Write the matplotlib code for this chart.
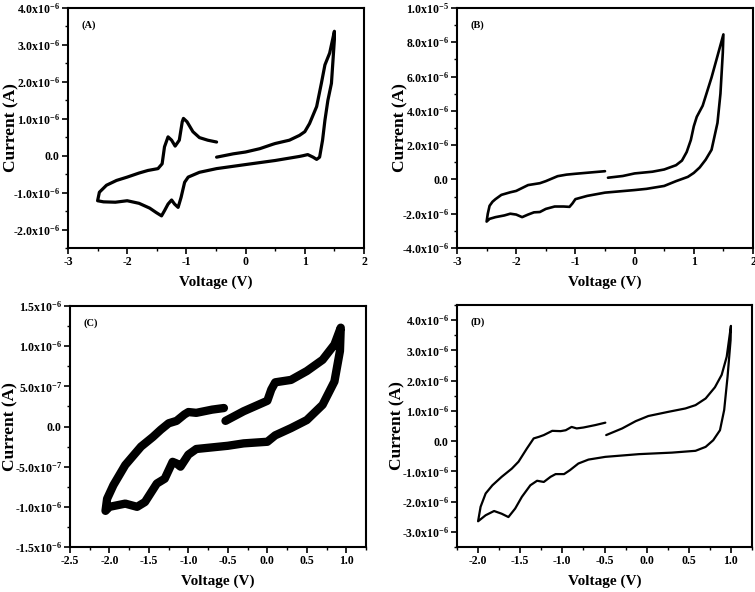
import numpy as np
import matplotlib
matplotlib.use("Agg")
import matplotlib.pyplot as plt
from matplotlib.ticker import FuncFormatter, MultipleLocator

plt.rcParams['font.family'] = ['Liberation Serif', 'DejaVu Serif']
plt.rcParams['font.weight'] = 'bold'
plt.rcParams['mathtext.fontset'] = 'custom'
plt.rcParams['mathtext.rm'] = 'Liberation Serif:bold'
plt.rcParams['mathtext.it'] = 'Liberation Serif:bold'
plt.rcParams['mathtext.bf'] = 'Liberation Serif:bold'

UA = 1e-6  # values below are in microamperes

# ---------------- Panel A ----------------
A_v = [-0.49, -0.21, 0.0, 0.24, 0.46, 0.5, 0.74, 0.91, 1.0, 1.08, 1.2, 1.28, 1.34, 1.42, 1.5,
       1.5, 1.45, 1.39, 1.34, 1.3, 1.25, 1.2, 1.14, 1.05, 0.97, 0.91, 0.5, 0.0, -0.49, -0.78,
       -0.97, -1.03, -1.09, -1.14, -1.2, -1.25, -1.31, -1.37, -1.42, -1.51, -1.62, -1.8, -2.0,
       -2.2, -2.4, -2.5,
       -2.47, -2.35, -2.18, -2.0, -1.8, -1.65, -1.48, -1.41, -1.37, -1.31, -1.25, -1.19, -1.12,
       -1.07, -1.05, -0.99, -0.89, -0.78, -0.64, -0.49]
A_i = [-0.04, 0.05, 0.1, 0.19, 0.31, 0.33, 0.42, 0.55, 0.65, 0.87, 1.33, 1.96, 2.46, 2.78, 3.37,
       3.15, 1.96, 1.5, 0.96, 0.42, -0.04, -0.1, -0.04, 0.03, 0.0, -0.02, -0.13, -0.24, -0.35, -0.45,
       -0.58, -0.72, -1.13, -1.4, -1.31, -1.2, -1.31, -1.49, -1.63, -1.54, -1.42, -1.29, -1.22,
       -1.26, -1.25, -1.22,
       -0.99, -0.8, -0.67, -0.58, -0.47, -0.4, -0.35, -0.22, 0.24, 0.51, 0.42, 0.26, 0.42,
       0.92, 1.01, 0.92, 0.65, 0.49, 0.42, 0.37]

# ---------------- Panel B ----------------
B_v = [-0.45, -0.2, 0.0, 0.3, 0.5, 0.7, 0.8, 0.88, 0.95, 1.0, 1.05, 1.15, 1.3, 1.4, 1.5,
       1.49, 1.47, 1.45, 1.4, 1.3, 1.2, 1.1, 1.0, 0.9, 0.7, 0.5, 0.2, 0.0, -0.5, -0.8, -1.0,
       -1.05, -1.1, -1.2, -1.35, -1.5, -1.6, -1.7, -1.8, -1.9, -2.0, -2.1, -2.2, -2.35, -2.45, -2.5,
       -2.48, -2.45, -2.4, -2.35, -2.25, -2.1, -2.0, -1.9, -1.8, -1.6, -1.5, -1.3, -1.15, -1.0,
       -0.7, -0.5]
B_i = [0.1, 0.2, 0.35, 0.45, 0.58, 0.83, 1.1, 1.6, 2.3, 3.1, 3.65, 4.3, 5.95, 7.2, 8.46,
       7.4, 6.2, 5.0, 3.3, 1.73, 1.15, 0.7, 0.38, 0.15, -0.1, -0.38, -0.55, -0.62, -0.77, -0.96, -1.15,
       -1.4, -1.6, -1.58, -1.58, -1.72, -1.9, -1.92, -2.05, -2.2, -2.05, -2.0, -2.1, -2.2, -2.3, -2.46,
       -2.0, -1.54, -1.3, -1.15, -0.9, -0.75, -0.67, -0.5, -0.33, -0.22, -0.1, 0.19, 0.28, 0.33,
       0.42, 0.48]

# ---------------- Panel C ----------------
C_v = [-0.53, -0.3, 0.0, 0.05, 0.1, 0.3, 0.5, 0.7, 0.85, 0.93,
       0.92, 0.85, 0.7, 0.5, 0.3, 0.1, 0.0, -0.3, -0.5, -0.9, -1.0, -1.1, -1.15, -1.2, -1.3,
       -1.4, -1.55, -1.65, -1.8, -2.0, -2.05,
       -2.03, -1.95, -1.8, -1.6, -1.45, -1.35, -1.25, -1.15, -1.05, -1.0, -0.9, -0.7, -0.55]
C_i = [0.07, 0.19, 0.32, 0.46, 0.55, 0.58, 0.69, 0.83, 1.02, 1.23,
       0.94, 0.56, 0.27, 0.08, -0.02, -0.11, -0.19, -0.21, -0.24, -0.28, -0.35, -0.5, -0.46, -0.44, -0.65,
       -0.71, -0.94, -1.0, -0.96, -1.0, -1.05,
       -0.9, -0.73, -0.48, -0.25, -0.13, -0.04, 0.04, 0.07, 0.15, 0.18, 0.17, 0.21, 0.23]

# ---------------- Panel D ----------------
D_v = [-0.48, -0.29, -0.13, 0.02, 0.26, 0.46, 0.58, 0.70, 0.81, 0.89, 0.95, 1.0,
       0.996, 0.96, 0.92, 0.87, 0.79, 0.70, 0.58, 0.30, -0.09, -0.49, -0.69, -0.81, -0.91, -0.98,
       -1.08, -1.14, -1.22, -1.30, -1.38, -1.48, -1.56, -1.64, -1.72, -1.81, -1.91, -2.0,
       -1.97, -1.91, -1.83, -1.72, -1.60, -1.52, -1.42, -1.34, -1.28, -1.22, -1.12, -1.02, -0.96,
       -0.89, -0.83, -0.75, -0.61, -0.49]
D_i = [0.2, 0.42, 0.66, 0.83, 0.97, 1.08, 1.19, 1.41, 1.78, 2.19, 2.79, 3.81,
       3.34, 2.13, 1.03, 0.36, 0.03, -0.19, -0.32, -0.38, -0.43, -0.52, -0.61, -0.74, -0.96, -1.09,
       -1.09, -1.18, -1.35, -1.31, -1.46, -1.84, -2.23, -2.51, -2.40, -2.31, -2.45, -2.65,
       -2.17, -1.73, -1.46, -1.18, -0.91, -0.68, -0.24, 0.09, 0.14, 0.2, 0.34, 0.33, 0.36,
       0.47, 0.42, 0.45, 0.53, 0.61]


def sci_fmt(v, pos):
    if abs(v) < 1e-12:
        return "0.0"
    e = int(np.floor(np.log10(abs(v)) + 1e-9))
    m = v / 10 ** e
    return "%.1fx10$^{%d}$" % (m, e)


fig = plt.figure(figsize=(7.55, 5.92), dpi=100)

W, H = 755.0, 592.0


def make_ax(l, r, t, b):
    return fig.add_axes([l / W, 1 - b / H, (r - l) / W, (b - t) / H])


panels = [
    # rect, data, xlim, ylim, xmajor, xminor, ymajor, yminor, lw, label, labelled y range, ylabel x
    ((68, 364, 8, 248), (A_v, A_i), (-3, 2), (-2.5e-6, 4.0e-6), 1, 0.5, 1e-6, 0.5e-6, 2.3, "(A)", (-2.0e-6, 4.0e-6), -0.165),
    ((457, 753, 8, 248), (B_v, B_i), (-3, 2), (-4e-6, 1e-5), 1, 0.5, 2e-6, 1e-6, 1.9, "(B)", None, -0.165),
    ((70, 366, 306, 547), (C_v, C_i), (-2.5, 1.25), (-1.5e-6, 1.5e-6), 0.5, 0.25, 5e-7, 2.5e-7, 6.0, "(C)", None, -0.175),
    ((457, 752, 305, 547), (D_v, D_i), (-2.25, 1.25), (-3.5e-6, 4.5e-6), 0.5, 0.25, 1e-6, 0.5e-6, 1.6, "(D)", (-3e-6, 4e-6), -0.175),
]

for rect, (vv, ii), xl, yl, xmaj, xmin, ymaj, ymin, lw, lab, lab_range, ylx in panels:
    ax = make_ax(*rect)
    ax.plot(vv, np.array(ii) * UA, color='black', lw=lw, solid_joinstyle='round', solid_capstyle='round')
    ax.set_xlim(*xl)
    ax.set_ylim(*yl)
    ax.xaxis.set_major_locator(MultipleLocator(xmaj))
    ax.xaxis.set_minor_locator(MultipleLocator(xmin))
    if lab_range is not None:
        ticks = np.arange(lab_range[0], lab_range[1] + ymaj / 2, ymaj)
        ax.set_yticks(ticks)
    else:
        ax.yaxis.set_major_locator(MultipleLocator(ymaj))
    ax.yaxis.set_minor_locator(MultipleLocator(ymin))
    ax.yaxis.set_major_formatter(FuncFormatter(sci_fmt))
    if xmaj == 1:
        ax.xaxis.set_major_formatter(FuncFormatter(lambda v, p: "%d" % round(v)))
    else:
        ax.xaxis.set_major_formatter(FuncFormatter(lambda v, p: "%.1f" % v))
    ax.tick_params(which='major', direction='out', length=4, width=1.2, labelsize=8.5, pad=2)
    ax.tick_params(which='minor', direction='out', length=2.2, width=1.0)
    for s in ax.spines.values():
        s.set_linewidth(1.5)
    ax.set_xlabel("Voltage (V)", fontsize=11, fontweight='bold')
    ax.set_ylabel("Current (A)", fontsize=12.5, fontweight='bold')
    ax.xaxis.set_label_coords(0.5, -0.115)
    ax.yaxis.set_label_coords(ylx, 0.5)
    ax.text(0.045, 0.93, lab, transform=ax.transAxes, fontsize=7.5, fontweight='bold',
            va='center', ha='left')
    for t in ax.get_xticklabels() + ax.get_yticklabels():
        t.set_fontweight('bold')

fig.savefig("out.png", dpi=100)
